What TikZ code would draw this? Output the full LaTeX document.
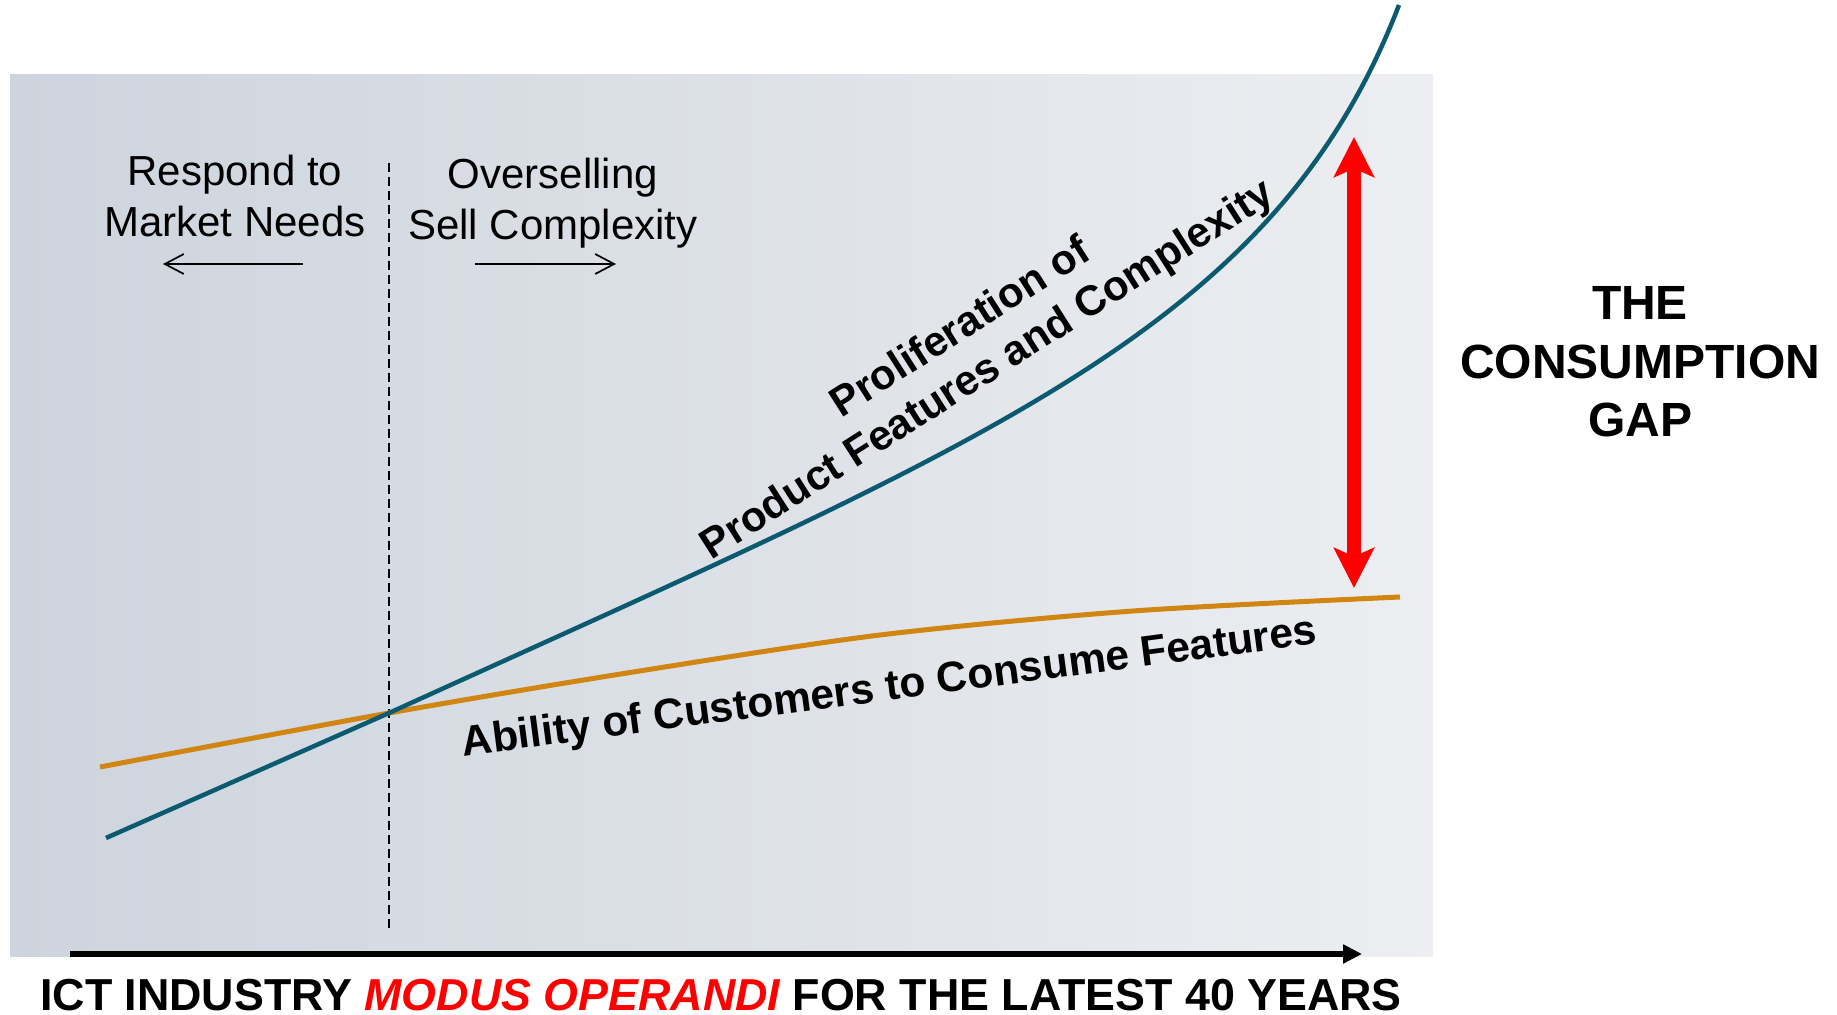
\documentclass[tikz,border=0pt]{standalone}
\usepackage{fontspec}
\setmainfont{Liberation Sans}
\usepackage{tikz}
\usetikzlibrary{arrows.meta}
\definecolor{bgleft}{RGB}{205,212,221}
\definecolor{bgright}{RGB}{236,238,241}
\definecolor{prodblue}{RGB}{11,90,112}
\definecolor{custorange}{RGB}{209,134,18}

\begin{document}
\begin{tikzpicture}[x=0.5pt,y=-0.5pt,
	label/.style={inner sep=0pt,align=center,font=\fontsize{21pt}{25.5pt}\selectfont},
	curvelabel/.style={inner sep=0pt,align=center,font=\fontsize{21pt}{25pt}\selectfont\bfseries},
	thinarrow/.style={line width=0.85pt,-{Straight Barb[length=9.5pt,width=10pt]}}]
	\useasboundingbox (0,0) rectangle (1837,1015);
	\shade[left color=bgleft,right color=bgright] (10,75) rectangle (1433,956);
	\coordinate (div-top) at (389,163);
	\coordinate (div-bot) at (389,930);
	\draw[line width=1pt,dash pattern=on 4.5pt off 2.5pt] (div-top) -- (div-bot);
	\node[label] (respond) at (235,196) {Respond to\\Market Needs};
	\node[label] (oversell) at (553,203) {Overselling\\Sell Complexity};
	\coordinate (left-a) at (303,264);
	\coordinate (left-b) at (163,264);
	\coordinate (right-a) at (475,264);
	\coordinate (right-b) at (616,264);
	\draw[thinarrow] (left-a) -- (left-b);
	\draw[thinarrow] (right-a) -- (right-b);
	\coordinate (cross) at (389,713);
	\coordinate (blue-start) at (106,838);
	\coordinate (blue-end) at (1399,5);
	\draw[custorange,line width=2.5pt] plot[smooth] coordinates {(100,767) (389,713) (627,673) (880,635) (1133,611) (1400,597)};
	\draw[prodblue,line width=2.25pt] (blue-start) -- (cross) .. controls (989,440) and (1274,330) .. (blue-end);
	\node[curvelabel,rotate=32.5] (prolif) at (975,350) {Proliferation of\\Product Features and Complexity};
	\node[inner sep=0pt,anchor=base,rotate=7.5,font=\fontsize{21.25pt}{25pt}\selectfont\bfseries] (ability) at (891,700) {Ability of Customers to Consume Features};
	\coordinate (gap-top) at (1354,137);
	\coordinate (gap-bot) at (1354,588);
	\draw[red,line width=7pt,{Stealth[length=20pt,width=20pt,inset=4.3pt]}-{Stealth[length=20pt,width=20pt,inset=4.3pt]}] (gap-top) -- (gap-bot);
	\node[inner sep=0pt,align=center,font=\fontsize{24pt}{29.25pt}\selectfont\bfseries] (gap) at (1640,362) {THE\\CONSUMPTION\\GAP};
	\coordinate (time-a) at (70,954);
	\coordinate (time-b) at (1362,954);
	\draw[line width=3pt,-{Triangle[length=9.4pt,width=9pt]}] (time-a) -- (time-b);
	\node[inner sep=0pt,anchor=base,font=\fontsize{22.4pt}{26pt}\selectfont\bfseries] (modus) at (721,1010) {ICT INDUSTRY \textcolor{red}{\itshape MODUS OPERANDI} FOR THE LATEST 40 YEARS};
\end{tikzpicture}
\end{document}
